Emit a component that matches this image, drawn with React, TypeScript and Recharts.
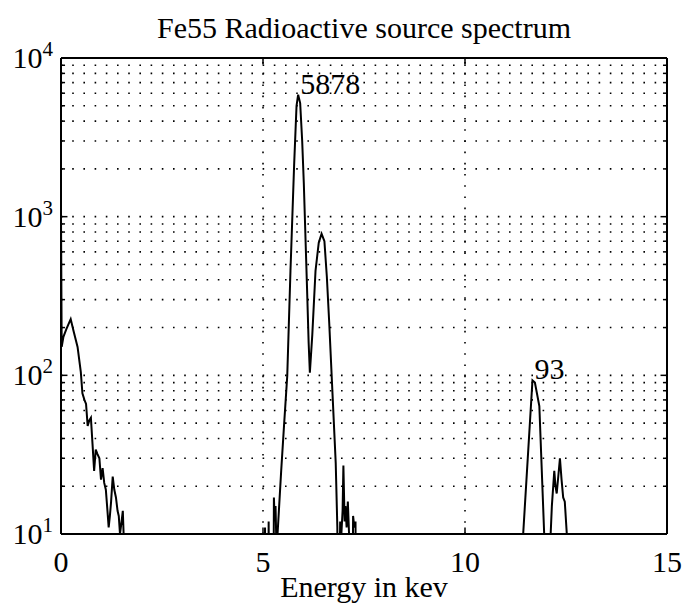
import { LineChart, Line, XAxis, YAxis, ReferenceLine, ReferenceDot } from 'recharts';

const FONT = '"Liberation Serif", "Times New Roman", serif';

// energy in keV; channels with no counts are kept at 1 so they drop below the log axis
const energy = [
  0, 0.017, 0.06, 0.13, 0.24, 0.32, 0.41, 0.49, 0.53, 0.58, 0.62, 0.66, 0.7, 0.74, 0.78,
  0.82, 0.86, 0.9, 0.95, 0.99, 1.03, 1.07, 1.11, 1.15, 1.18, 1.21, 1.24, 1.28, 1.32, 1.36,
  1.4, 1.43, 1.46, 1.5, 1.53, 1.55, 1.56,
  5.03, 5.05, 5.07, 5.12, 5.14, 5.16, 5.25, 5.27, 5.29, 5.31, 5.33,
  5.36, 5.45, 5.52, 5.6, 5.68, 5.77, 5.83, 5.87, 5.92, 5.97, 6.01, 6.09, 6.13, 6.16,
  6.22, 6.3, 6.38, 6.45, 6.52, 6.58, 6.64, 6.72, 6.8, 6.84, 6.86,
  6.91, 6.94, 6.97, 6.99, 7.02, 7.04, 7.07, 7.1, 7.13, 7.15, 7.2, 7.23, 7.26, 7.29, 7.31,
  11.44, 11.67, 11.73, 11.84, 11.96, 12.12, 12.15, 12.21, 12.24, 12.27, 12.35, 12.39,
  12.43, 12.47, 12.52, 12.54, 15,
];
const counts = [
  1000, 151, 175, 195, 226, 186, 151, 105, 77, 70, 66, 48, 52, 54, 37,
  25, 34, 32, 30, 22, 26, 21, 19, 14, 11, 13, 16, 23, 19, 17,
  14, 13, 10, 12, 14, 10, 1,
  1, 11, 1, 1, 12, 1, 1, 17, 12, 15, 9,
  10, 25, 48, 99, 456, 2100, 5000, 5878, 5200, 3000, 1630, 354, 160, 104,
  180, 456, 686, 780, 700, 420, 212, 77, 28, 11, 1,
  12, 10, 14, 27, 12, 15, 11, 16, 10, 1, 1, 13, 11, 12, 1,
  10, 93, 90, 64, 10, 10, 15, 25, 20, 18, 30, 22,
  17, 16, 10, 1, 1,
];

const xTicks = [0, 5, 10, 15];
const yTicks = [10, 100, 1000, 10000];
const xGrid = [5, 10];
const yGrid = [
  20, 30, 40, 50, 60, 70, 80, 90, 100,
  200, 300, 400, 500, 600, 700, 800, 900, 1000,
  2000, 3000, 4000, 5000, 6000, 7000, 8000, 9000,
];
const peakLabels = [
  { x: 5.87, y: 5878, text: '5878' },
  { x: 11.67, y: 93, text: '93' },
];

const data = energy.map((e, i) => ({ energy: e, counts: counts[i] }));

const YTick = ({ x, y, payload }: any) => {
  const exp = Math.round(Math.log10(payload.value));
  return (
    <text x={x} y={y + 10} textAnchor="end" fontFamily={FONT} fontSize={30} fill="#000">
      10
      <tspan fontSize={21} dy={-12}>
        {exp}
      </tspan>
    </text>
  );
};

const XTick = ({ x, y, payload }: any) => (
  <text x={x} y={y + 30} textAnchor="middle" fontFamily={FONT} fontSize={30} fill="#000">
    {payload.value}
  </text>
);

const PeakText = (text: string) => (props: any) => (
  <text x={props.cx + 2} y={props.cy - 1} fontFamily={FONT} fontSize={30} fill="#000">
    {text}
  </text>
);

const dotted = { stroke: '#000', strokeWidth: 1.6, strokeDasharray: '1.6 9.6' };
const frame = { stroke: '#000', strokeWidth: 2 };

export default function App() {
  return (
    <div style={{ position: 'absolute', left: 0, top: 0, width: 689, height: 612, background: '#fff' }}>
      <svg width={689} height={50} style={{ position: 'absolute', left: 0, top: 0 }}>
        <text x={364} y={38} textAnchor="middle" fontFamily={FONT} fontSize={30} fill="#000">
          Fe55 Radioactive source spectrum
        </text>
      </svg>
      <LineChart width={689} height={612} data={data} margin={{ top: 58, right: 22, bottom: 0, left: 0 }}>
        <XAxis
          dataKey="energy"
          type="number"
          domain={[0, 15]}
          ticks={xTicks}
          tick={<XTick />}
          tickSize={0}
          tickMargin={8}
          axisLine={false}
          height={78}
          label={{ value: 'Energy in kev', position: 'insideBottom', offset: 15, fontFamily: FONT, fontSize: 30, fill: '#000' }}
        />
        <YAxis
          scale="log"
          domain={[10, 10000]}
          allowDataOverflow
          ticks={yTicks}
          tick={<YTick />}
          tickSize={0}
          tickMargin={8}
          axisLine={false}
          width={61}
        />

        {yGrid.map((v) => (
          <ReferenceLine key={'gy' + v} y={v} {...dotted} />
        ))}
        {xGrid.map((v) => (
          <ReferenceLine key={'gx' + v} x={v} {...dotted} />
        ))}

        {/* small inward tick marks on the frame */}
        {yGrid.map((v) => (
          <ReferenceLine key={'tl' + v} segment={[{ x: 0, y: v }, { x: yTicks.includes(v) ? 0.16 : 0.1, y: v }]} stroke="#000" strokeWidth={1.5} />
        ))}
        {yGrid.map((v) => (
          <ReferenceLine key={'tr' + v} segment={[{ x: yTicks.includes(v) ? 14.84 : 14.9, y: v }, { x: 15, y: v }]} stroke="#000" strokeWidth={1.5} />
        ))}
        {xGrid.map((v) => (
          <ReferenceLine key={'tb' + v} segment={[{ x: v, y: 10 }, { x: v, y: 11 }]} stroke="#000" strokeWidth={1.5} />
        ))}
        {xGrid.map((v) => (
          <ReferenceLine key={'tt' + v} segment={[{ x: v, y: 9100 }, { x: v, y: 10000 }]} stroke="#000" strokeWidth={1.5} />
        ))}

        <ReferenceLine x={0} {...frame} />
        <ReferenceLine x={15} {...frame} />
        <ReferenceLine y={10} {...frame} />
        <ReferenceLine y={10000} {...frame} />

        <Line
          type="linear"
          dataKey="counts"
          stroke="#000"
          strokeWidth={2}
          dot={false}
          activeDot={false}
          isAnimationActive={false}
        />

        {peakLabels.map((p) => (
          <ReferenceDot key={p.text} x={p.x} y={p.y} r={0} shape={PeakText(p.text)} />
        ))}
      </LineChart>
    </div>
  );
}
